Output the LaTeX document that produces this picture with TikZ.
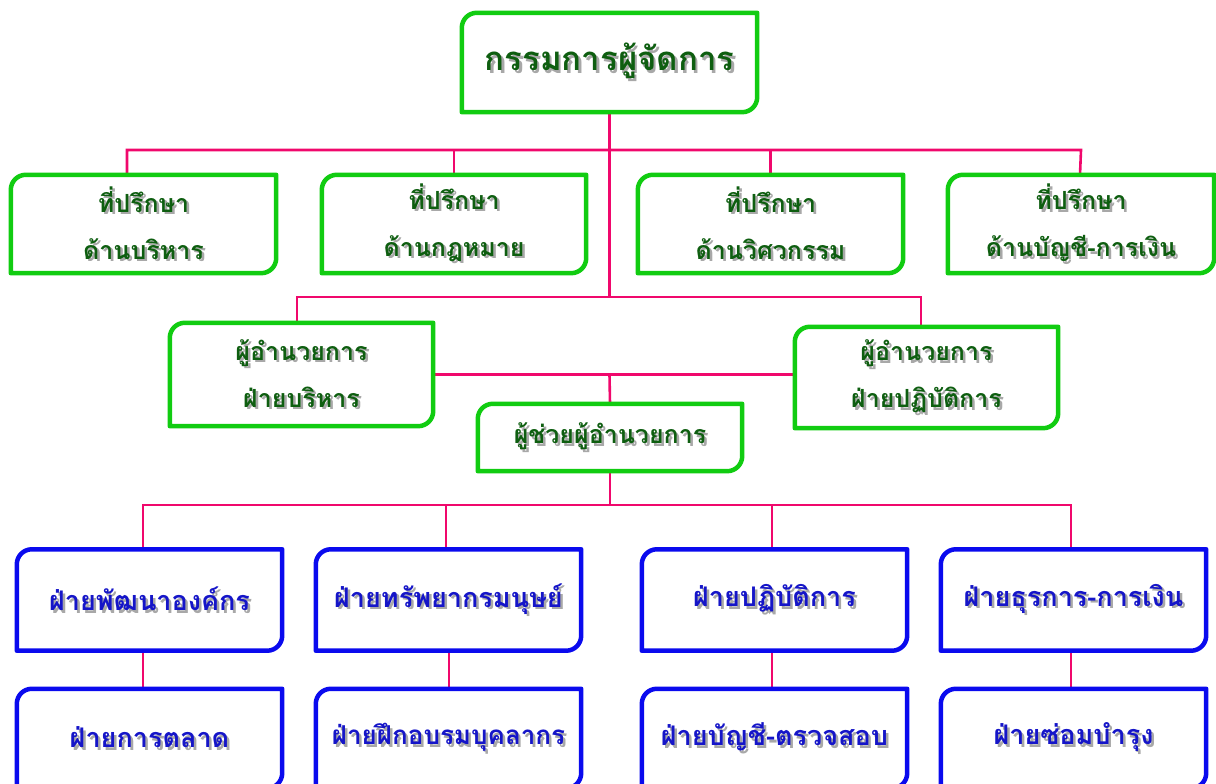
\documentclass[tikz,border=0pt]{standalone}
\usepackage{fontspec}
\newfontfamily\thaifont[Script=Thai]{Loma}
\definecolor{gline}{HTML}{11CC11}
\definecolor{gtext}{HTML}{0E5E10}
\definecolor{bline}{HTML}{0A0AEE}
\definecolor{btext}{HTML}{1515C8}
\definecolor{conn}{HTML}{F0086C}
\definecolor{shadowc}{HTML}{A8A8A8}
\newcommand\shd[1]{\leavevmode\rlap{\hspace{2.5pt}\raisebox{-2.5pt}{\color{shadowc}#1}}#1}
\newcommand\bshd[1]{\raisebox{-3pt}{\shd{#1}}}
\begin{document}
\begin{tikzpicture}[x=1pt,y=1pt,
  box/.style={inner sep=0pt, align=center, minimum height=#1},
  gbox/.style={box=98pt, text=gtext, font=\thaifont\bfseries\fontsize{25}{47}\selectfont},
  bbox/.style={box=101pt, text=btext, minimum width=265pt, font=\thaifont\bfseries\fontsize{27}{40}\selectfont},
  gborder/.style={draw=gline, line width=4.5pt},
  bborder/.style={draw=bline, line width=4.5pt},
  link/.style={draw=conn, line width=2.6pt}]
\useasboundingbox (0,0) rectangle (1216,784);
% nodes
\node[gbox, minimum width=295pt, minimum height=99pt, font=\thaifont\bfseries\fontsize{33}{40}\selectfont] (top) at (609.5,721.5) {\shd{กรรมการผู้จัดการ}};
\node[gbox, minimum width=265pt] (a1) at (143.5,560) {\shd{ที่ปรึกษา}\\\shd{ด้านบริหาร}};
\node[gbox, minimum width=264pt] (a2) at (454,560) {\shd{ที่ปรึกษา}\\\shd{ด้านกฎหมาย}};
\node[gbox, minimum width=265pt] (a3) at (770.5,560) {\shd{ที่ปรึกษา}\\\shd{ด้านวิศวกรรม}};
\node[gbox, minimum width=266pt] (a4) at (1081,560) {\shd{ที่ปรึกษา}\\\shd{ด้านบัญชี-การเงิน}};
\node[gbox, minimum width=263pt, minimum height=103pt] (d1) at (301.5,409.5) {\shd{ผู้อำนวยการ}\\\shd{ฝ่ายบริหาร}};
\node[gbox, minimum width=263pt, minimum height=101pt] (d2) at (926.5,406.5) {\shd{ผู้อำนวยการ}\\\shd{ฝ่ายปฏิบัติการ}};
\node[gbox, minimum width=264pt, minimum height=67pt] (as) at (610,346.5) {\shd{ผู้ช่วยผู้อำนวยการ}};
\node[bbox] (b1) at (149.5,184) {\bshd{ฝ่ายพัฒนาองค์กร}};
\node[bbox] (b2) at (448.5,184) {\bshd{ฝ่ายทรัพยากรมนุษย์}};
\node[bbox] (b3) at (774.5,184) {\bshd{ฝ่ายปฏิบัติการ}};
\node[bbox] (b4) at (1073.5,184) {\bshd{ฝ่ายธุรการ-การเงิน}};
\node[bbox, minimum height=99pt] (c1) at (149.5,45.5) {\bshd{ฝ่ายการตลาด}};
\node[bbox, minimum height=99pt, font=\thaifont\bfseries\fontsize{26}{40}\selectfont] (c2) at (448.5,45.5) {\bshd{ฝ่ายฝึกอบรมบุคลากร}};
\node[bbox, minimum height=99pt] (c3) at (774.5,45.5) {\bshd{ฝ่ายบัญชี-ตรวจสอบ}};
\node[bbox, minimum height=99pt] (c4) at (1073.5,45.5) {\bshd{ฝ่ายซ่อมบำรุง}};
% bus coordinates
\coordinate (bus1) at (0,634);
\coordinate (bus2) at (0,487);
\coordinate (bus3) at (0,279);
\coordinate (xa1) at (127,0);
\coordinate (xd1) at (297,0);
\coordinate (xd2) at (921,0);
\coordinate (xm) at (609.5,0);
\coordinate (xb1) at (143,0);
\coordinate (xb2) at (446,0);
\coordinate (xb3) at (772,0);
\coordinate (xb4) at (1071,0);
\coordinate (xc2) at (449,0);
% connectors
\begin{scope}[link]
\draw (top.south) -- (xm |- bus2);
\draw (a1.north -| xa1) -- (xa1 |- bus1) -- (a4.north |- bus1) -- ([xshift=-1pt]a4.north);
\draw (a2.north) -- (a2.north |- bus1);
\draw (a3.north) -- (a3.north |- bus1);
\draw (d1.north -| xd1) -- (xd1 |- bus2) -- (xd2 |- bus2) -- (d2.north -| xd2);
\draw (d1.east) -- (d2.west |- d1.east);
\draw (xm |- d1.east) -- (as.north);
\draw (as.south) -- (as.south |- bus3);
\draw (b1.north -| xb1) -- (xb1 |- bus3) -- (xb4 |- bus3) -- (b4.north -| xb4);
\draw (b2.north -| xb2) -- (xb2 |- bus3);
\draw (b3.north -| xb3) -- (xb3 |- bus3);
\draw (b1.south -| xb1) -- (c1.north -| xb1);
\draw (b2.south -| xc2) -- (c2.north -| xc2);
\draw (b3.south -| xb3) -- (c3.north -| xb3);
\draw (b4.south -| xb4) -- (c4.north -| xb4);
\end{scope}
% borders: rounded top-left and bottom-right corners
\foreach \n/\s in {top/gborder,a1/gborder,a2/gborder,a3/gborder,a4/gborder,d1/gborder,d2/gborder,as/gborder,b1/bborder,b2/bborder,b3/bborder,b4/bborder,c1/bborder,c2/bborder,c3/bborder,c4/bborder}{
  \draw[\s, line join=round] ([yshift=-15pt]\n.north west) arc[start angle=180,end angle=90,radius=15pt]
    -- (\n.north east) -- ([yshift=15pt]\n.south east) arc[start angle=0,end angle=-90,radius=15pt]
    -- (\n.south west) -- cycle;
}
\end{tikzpicture}
\end{document}
